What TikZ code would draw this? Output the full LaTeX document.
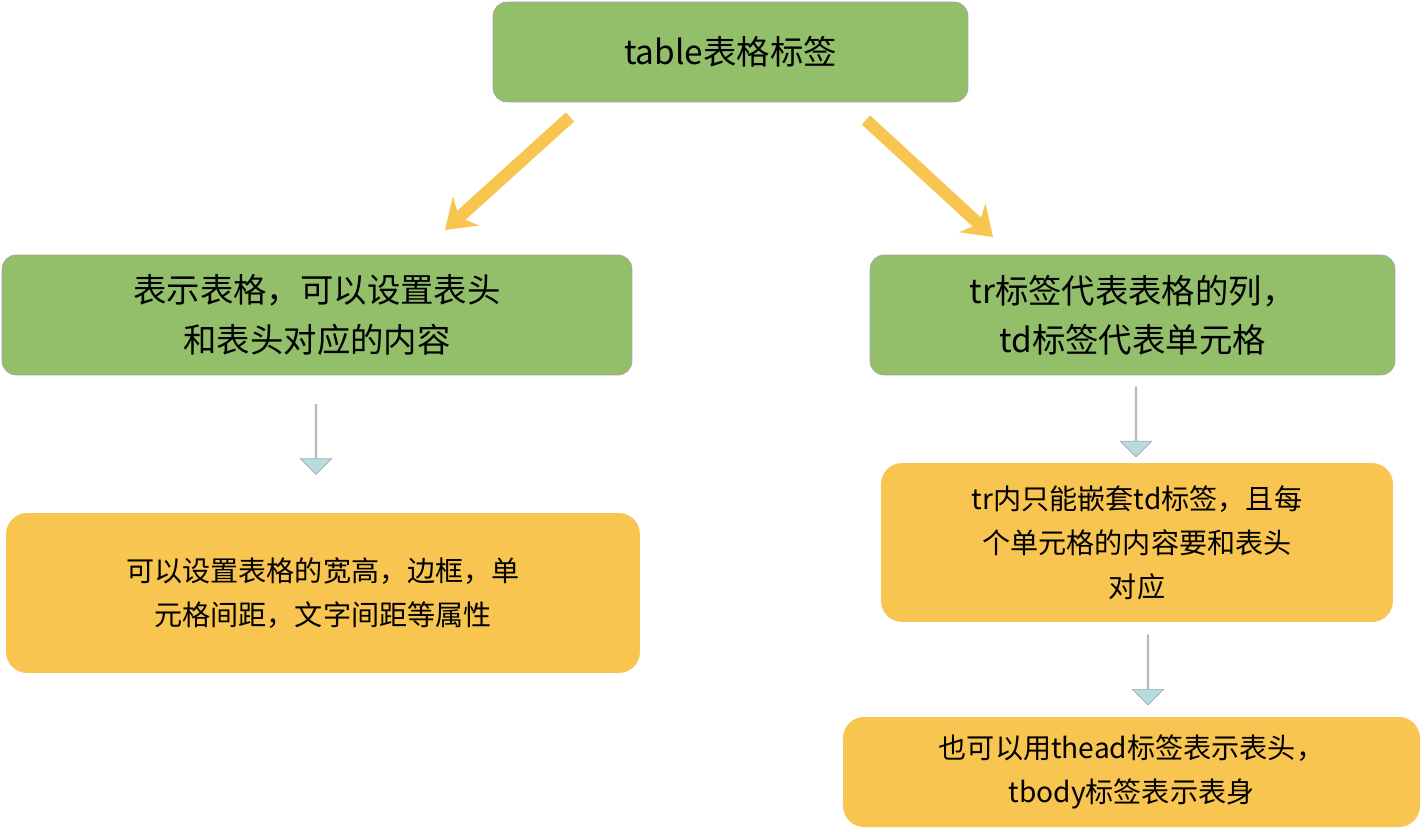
\documentclass[tikz,border=0pt]{standalone}
\usepackage{fontspec}
\newfontfamily\cjk{Noto Sans CJK SC}
\usetikzlibrary{shapes.arrows,arrows.meta}
\definecolor{boxgreen}{HTML}{93BF6B}
\definecolor{boxorange}{HTML}{F8C550}
\definecolor{arrowyellow}{HTML}{F8C550}
\definecolor{arrowblue}{HTML}{B5DDE0}
\begin{document}
\begin{tikzpicture}[x=0.02cm,y=-0.02cm]
\tikzset{greenbox/.style={draw=gray!70,fill=boxgreen,rounded corners=8pt,align=center,font=\cjk\fontsize{19}{28}\selectfont,inner sep=0pt},
         orangebox/.style={fill=boxorange,rounded corners=12pt,align=center,font=\cjk\fontsize{16}{25}\selectfont,inner sep=0pt},
         yellowarrow/.style={draw=arrowyellow,line width=7pt,-{Stealth[length=16pt,width=22pt]}},
         downarrow/.style={single arrow,draw=gray!70,fill=arrowblue,rotate=-90,minimum height=1.4cm,minimum width=0.62cm,single arrow head extend=0.15cm,inner sep=0pt}}
\useasboundingbox (0,0) rectangle (1425,831);
\node[greenbox,minimum width=9.5cm,minimum height=2cm] (table) at (730.5,52) {table表格标签};
\node[greenbox,minimum width=12.6cm,minimum height=2.4cm] (lgreen) at (317,315) {表示表格，可以设置表头\\和表头对应的内容};
\node[greenbox,minimum width=10.5cm,minimum height=2.4cm] (rgreen) at (1132.5,315) {tr标签代表表格的列，\\td标签代表单元格};
\node[orangebox,minimum width=12.68cm,minimum height=3.2cm] (lorange) at (323,593) {可以设置表格的宽高，边框，单\\元格间距，文字间距等属性};
\node[orangebox,minimum width=10.24cm,minimum height=3.18cm] (rorange) at (1137,542.5) {tr内只能嵌套td标签，且每\\个单元格的内容要和表头\\对应};
\node[orangebox,minimum width=11.54cm,minimum height=2.2cm] (borange) at (1131.5,772) {也可以用thead标签表示表头，\\tbody标签表示表身};
\coordinate (la) at (570,117);
\coordinate (lb) at (445,230);
\coordinate (ra) at (866,120);
\coordinate (rb) at (993,237);
\draw[yellowarrow] (la) -- (lb);
\draw[yellowarrow] (ra) -- (rb);
\node[downarrow] (larrow) at (316,439) {};
\node[downarrow] (rarrow) at (1136,421.5) {};
\node[downarrow] (barrow) at (1148,669.5) {};
\end{tikzpicture}
\end{document}
